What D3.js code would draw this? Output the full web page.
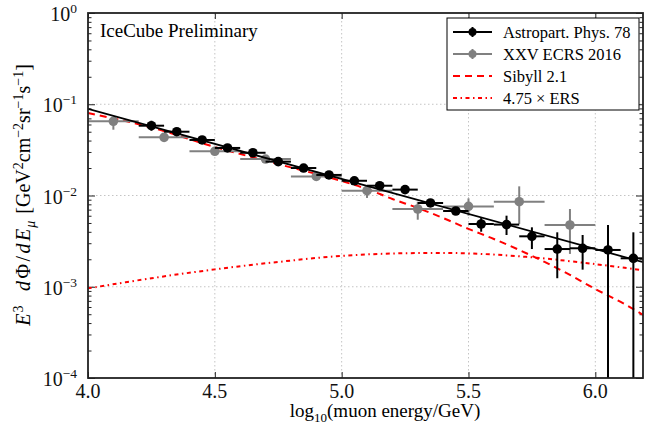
<!doctype html>
<html lang="en">
<head>
	<meta charset="UTF-8">
	<title>IceCube muon spectrum</title>
	<script src="https://cdn.jsdelivr.net/npm/d3@7"></script>
	<style>
		body { margin: 0; background: #fff; }
		svg { display: block; font-family: "Liberation Serif", "DejaVu Serif", serif; }
		.grid line { stroke: #c4c4c4; stroke-width: 1; stroke-dasharray: 1.5,2.5; }
		.tick-mark line { stroke: #222; stroke-width: 1; }
		.spine { fill: none; stroke: #222; stroke-width: 1.8; }
		.tick-label { font-size: 20px; fill: #111; }
	</style>
</head>
<body>
	<div id="chart"></div>
	<script>
		// ---- data ----
		var astroX = [4.25, 4.35, 4.45, 4.55, 4.65, 4.75, 4.85, 4.95, 5.05, 5.15,
			5.25, 5.35, 5.45, 5.55, 5.65, 5.75, 5.85, 5.95, 6.05, 6.15];
		var astroY = [0.0582, 0.0500, 0.0406, 0.0332, 0.0294, 0.0235, 0.0200, 0.0168, 0.0145, 0.0128,
			0.0116, 0.00828, 0.00676, 0.00487, 0.00480, 0.00357, 0.00259, 0.00264, 0.00253, 0.00205];
		var astroLo = [0.0513, 0.0475, 0.0386, 0.0316, 0.0280, 0.0224, 0.0190, 0.0160, 0.0138, 0.0121,
			0.0110, 0.0077, 0.0062, 0.00401, 0.00369, 0.00259, 0.00124, 0.00154, 0.00001, 0.00001];
		var astroHi = [0.0660, 0.0526, 0.0427, 0.0349, 0.0309, 0.0247, 0.0210, 0.0177, 0.0153, 0.0135,
			0.0122, 0.0089, 0.0073, 0.00566, 0.00601, 0.00448, 0.00395, 0.00369, 0.00475, 0.00395];
		var astroHalfBin = 0.05;

		var ecrsX = [4.1, 4.3, 4.5, 4.7, 4.9, 5.1, 5.3, 5.5, 5.7, 5.9];
		var ecrsY = [0.0650, 0.0434, 0.0305, 0.0251, 0.0162, 0.0113, 0.00711, 0.0076, 0.00855, 0.00475];
		var ecrsLo = [0.0526, 0.0412, 0.0290, 0.0238, 0.0150, 0.0094, 0.00543, 0.00601, 0.00488, 0.00229];
		var ecrsHi = [0.0719, 0.0457, 0.0321, 0.0264, 0.0170, 0.0127, 0.00855, 0.00931, 0.0126, 0.00711];
		var ecrsHalfBin = 0.1;

		var fitX = [4.0, 6.2];
		var fitY = [0.089, 0.00182];

		var sibyllX = [4.0, 4.25, 4.5, 4.75, 5.0, 5.1, 5.2, 5.3, 5.4, 5.5, 5.6, 5.7, 5.8, 5.9, 6.0, 6.1, 6.2];
		var sibyllY = [0.0802, 0.0556, 0.0340, 0.0221, 0.0144, 0.01178, 0.00916, 0.00730, 0.00567,
			0.00430, 0.00334, 0.00253, 0.00187, 0.00135, 0.000944, 0.000681, 0.000470];

		var ersX = [4.0, 4.25, 4.5, 4.75, 5.0, 5.25, 5.5, 5.75, 6.0, 6.2];
		var ersY = [0.00096, 0.00124, 0.00155, 0.00187, 0.00218, 0.00233, 0.00232, 0.0021, 0.00177, 0.0015];

		var xTicks = [4.0, 4.5, 5.0, 5.5, 6.0];
		var yTicks = [1, 1e-1, 1e-2, 1e-3, 1e-4];
		var legendLabels = ['Astropart. Phys. 78', 'XXV ECRS 2016', 'Sibyll 2.1', '4.75 \u00d7 ERS'];

		// ---- layout ----
		var w = 646, h = 432,
			margin = {top: 13, right: 3, bottom: 54, left: 88},
			pw = w - margin.left - margin.right,
			ph = h - margin.top - margin.bottom;

		var svg = d3.select('#chart').append('svg')
			.attr('width', w)
			.attr('height', h);

		var g = svg.append('g')
			.attr('transform', 'translate(' + margin.left + ',' + margin.top + ')');

		var xScale = d3.scaleLinear().domain([4.0, 6.188]).range([0, pw]);
		var yScale = d3.scaleLog().domain([1e-4, 1]).range([ph, 0]);

		svg.append('defs').append('clipPath').attr('id', 'plotClip')
			.append('rect').attr('width', pw).attr('height', ph);

		// grid
		var grid = g.append('g').attr('class', 'grid');
		grid.selectAll('.gx').data(xTicks.slice(1)).enter().append('line')
			.attr('x1', function(d) { return xScale(d); })
			.attr('x2', function(d) { return xScale(d); })
			.attr('y1', 0).attr('y2', ph);
		grid.selectAll('.gy').data(yTicks.slice(1, 4)).enter().append('line')
			.attr('y1', function(d) { return yScale(d); })
			.attr('y2', function(d) { return yScale(d); })
			.attr('x1', 0).attr('x2', pw);

		// ticks on all four sides, pointing inward
		var minorY = yScale.ticks().filter(function(d) {
			return Math.abs(Math.log10(d) - Math.round(Math.log10(d))) > 1e-6;
		});
		var addAxis = function(axis, tr) {
			var a = g.append('g').attr('class', 'tick-mark').attr('transform', tr).call(axis);
			a.select('.domain').remove();
			a.selectAll('text').remove();
			return a;
		};
		addAxis(d3.axisBottom(xScale).tickValues(xTicks).tickSizeInner(-6).tickSizeOuter(0), 'translate(0,' + ph + ')');
		addAxis(d3.axisTop(xScale).tickValues(xTicks).tickSizeInner(-6).tickSizeOuter(0), 'translate(0,0)');
		addAxis(d3.axisLeft(yScale).tickValues(yTicks).tickSizeInner(-7).tickSizeOuter(0), 'translate(0,0)');
		addAxis(d3.axisLeft(yScale).tickValues(minorY).tickSizeInner(-3.5).tickSizeOuter(0), 'translate(0,0)');
		addAxis(d3.axisRight(yScale).tickValues(yTicks).tickSizeInner(-7).tickSizeOuter(0), 'translate(' + pw + ',0)');
		addAxis(d3.axisRight(yScale).tickValues(minorY).tickSizeInner(-3.5).tickSizeOuter(0), 'translate(' + pw + ',0)');

		// curves
		var plot = g.append('g').attr('clip-path', 'url(#plotClip)');

		var lineOf = function(xs, curve) {
			return d3.line()
				.x(function(d, i) { return xScale(xs[i]); })
				.y(function(d) { return yScale(d); })
				.curve(curve || d3.curveLinear);
		};

		plot.append('path').datum(ersY)
			.attr('d', lineOf(ersX, d3.curveCatmullRom))
			.attr('fill', 'none').attr('stroke', '#ff0000').attr('stroke-width', 2)
			.attr('stroke-dasharray', '4,3.5,1.5,3.5');

		plot.append('path').datum(sibyllY)
			.attr('d', lineOf(sibyllX, d3.curveMonotoneX))
			.attr('fill', 'none').attr('stroke', '#ff0000').attr('stroke-width', 2)
			.attr('stroke-dasharray', '7,5');

		// error bar series
		var drawSeries = function(xs, ys, lo, hi, half, color) {
			var s = plot.append('g');
			s.selectAll('.hbar').data(ys).enter().append('line')
				.attr('x1', function(d, i) { return xScale(xs[i] - half); })
				.attr('x2', function(d, i) { return xScale(xs[i] + half); })
				.attr('y1', function(d) { return yScale(d); })
				.attr('y2', function(d) { return yScale(d); })
				.attr('stroke', color).attr('stroke-width', 2);
			s.selectAll('.vbar').data(ys).enter().append('line')
				.attr('x1', function(d, i) { return xScale(xs[i]); })
				.attr('x2', function(d, i) { return xScale(xs[i]); })
				.attr('y1', function(d, i) { return yScale(lo[i]); })
				.attr('y2', function(d, i) { return yScale(hi[i]); })
				.attr('stroke', color).attr('stroke-width', 2);
			s.selectAll('circle').data(ys).enter().append('circle')
				.attr('cx', function(d, i) { return xScale(xs[i]); })
				.attr('cy', function(d) { return yScale(d); })
				.attr('r', 4.8)
				.attr('fill', color);
		};

		drawSeries(ecrsX, ecrsY, ecrsLo, ecrsHi, ecrsHalfBin, '#808080');
		drawSeries(astroX, astroY, astroLo, astroHi, astroHalfBin, '#000000');

		plot.append('path').datum(fitY)
			.attr('d', lineOf(fitX))
			.attr('fill', 'none').attr('stroke', '#000').attr('stroke-width', 1.8);

		// frame
		g.append('rect').attr('class', 'spine').attr('width', pw).attr('height', ph);

		// tick labels
		g.selectAll('.xl').data(xTicks).enter().append('text')
			.attr('class', 'tick-label')
			.attr('x', function(d) { return xScale(d); })
			.attr('y', ph + 20)
			.attr('text-anchor', 'middle')
			.text(function(d) { return d.toFixed(1); });

		var yl = g.selectAll('.yl').data(yTicks).enter().append('text')
			.attr('class', 'tick-label')
			.attr('x', -11)
			.attr('y', function(d) { return yScale(d) + 8; })
			.attr('text-anchor', 'end');
		yl.append('tspan').text('10');
		yl.append('tspan')
			.attr('dy', -8)
			.attr('font-size', '13.5px')
			.text(function(d) {
				var e = Math.round(Math.log10(d));
				return e < 0 ? '\u2212' + (-e) : String(e);
			});

		/**
		* write a label made of plain, super- and subscript pieces
		* @param {d3 selection} txt The text element
		* @param {array} parts List of [string, kind, italic, letterSpacing]
		*/
		var richText = function(txt, parts, small) {
			var shift = 0;
			parts.forEach(function(p) {
				var target = p[1] === 'sup' ? -7.5 : (p[1] === 'sub' ? 5 : 0);
				var ts = txt.append('tspan').attr('dy', target - shift).text(p[0]);
				if (p[1]) ts.attr('font-size', small);
				if (p[2]) ts.attr('font-style', 'italic');
				if (p[3]) ts.attr('letter-spacing', p[3]);
				shift = target;
			});
		};

		var xlab = svg.append('text')
			.attr('x', 385).attr('y', 417)
			.attr('text-anchor', 'middle')
			.attr('font-size', '19px');
		richText(xlab, [['log'], ['10', 'sub'], ['(muon energy/GeV)']], '13px');

		var ylab = svg.append('text')
			.attr('transform', 'translate(30,195) rotate(-90)')
			.attr('text-anchor', 'middle')
			.attr('font-size', '20px');
		richText(ylab, [
			['E', null, true, '1px'], ['3', 'sup', false, '2px'], ['\u2002d', null, true, '2.5px'],
			['\u03a6/', null, false, '2.5px'], ['d', null, true, '2.5px'],
			['E', null, true, '1px'], ['\u03bc', 'sub', true, '2px'], [' [GeV'], ['2', 'sup'], ['cm'],
			['\u22122', 'sup'], ['sr'], ['\u22121', 'sup'], ['s'], ['\u22121', 'sup'], [']']
		], '14px');

		svg.append('text')
			.attr('x', 100).attr('y', 37)
			.attr('font-size', '19px')
			.text('IceCube Preliminary');

		// legend
		var legend = svg.append('g').attr('transform', 'translate(447,18)');
		legend.append('rect')
			.attr('width', 192).attr('height', 92)
			.attr('fill', '#fff').attr('stroke', '#000').attr('stroke-width', 1);

		var rows = legend.selectAll('.row').data(legendLabels).enter().append('g')
			.attr('transform', function(d, i) { return 'translate(0,' + (14 + i * 22) + ')'; });

		rows.append('text')
			.attr('x', 56).attr('y', 5.5)
			.attr('font-size', '16.5px')
			.text(function(d) { return d; });

		var handleColor = ['#000', '#808080', '#ff0000', '#ff0000'];
		var handleDash = [null, null, '7,5', '4,3.5,1.5,3.5'];
		rows.append('line')
			.attr('x1', 6).attr('x2', 45).attr('y1', 0).attr('y2', 0)
			.attr('stroke', function(d, i) { return handleColor[i]; })
			.attr('stroke-width', 2)
			.attr('stroke-dasharray', function(d, i) { return handleDash[i]; });
		rows.filter(function(d, i) { return i < 2; }).append('line')
			.attr('x1', 25.5).attr('x2', 25.5).attr('y1', -5).attr('y2', 5)
			.attr('stroke', function(d, i) { return handleColor[i]; })
			.attr('stroke-width', 2);
		rows.filter(function(d, i) { return i < 2; }).append('circle')
			.attr('cx', 25.5).attr('cy', 0).attr('r', 4)
			.attr('fill', function(d, i) { return handleColor[i]; });
	</script>
</body>
</html>
